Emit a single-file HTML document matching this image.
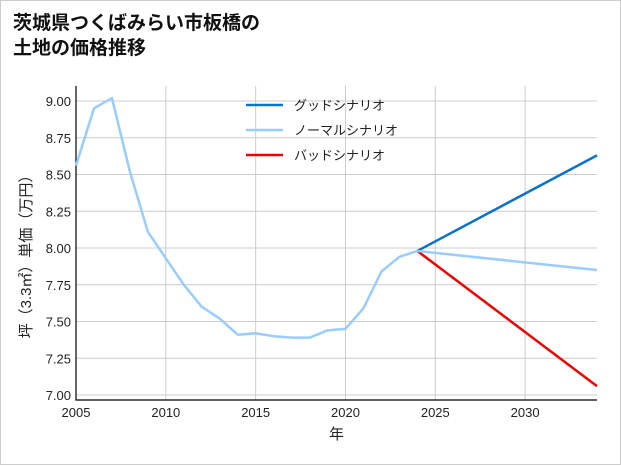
<!DOCTYPE html>
<html><head><meta charset="utf-8">
<style>
html,body{margin:0;padding:0;background:#fff;}
#wrap{position:relative;width:619px;height:463px;border:1px solid #ccc;background:#fff;font-family:"Liberation Sans","Noto Sans CJK JP",sans-serif;}
#title{position:absolute;left:12px;top:10px;font-size:19px;font-weight:bold;line-height:25px;color:#111;}
svg{position:absolute;left:0;top:0;}
</style></head><body>
<div id="wrap">
<div id="title">茨城県つくばみらい市板橋の<br>土地の価格推移</div>
<svg id="chart" width="621" height="465"></svg>
</div>
<script>
const years=[2005,2006,2007,2008,2009,2010,2011,2012,2013,2014,2015,2016,2017,2018,2019,2020,2021,2022,2023,2024];
const normalHist=[8.56,8.95,9.02,8.52,8.11,7.93,7.75,7.60,7.52,7.41,7.42,7.40,7.39,7.39,7.44,7.45,7.59,7.84,7.94,7.98];
const projYears=[2024,2034];
const goodVals=[7.98,8.63];
const normalVals=[7.98,7.85];
const badVals=[7.98,7.06];
const xTicks=[2005,2010,2015,2020,2025,2030];
const yTicks=[7.00,7.25,7.50,7.75,8.00,8.25,8.50,8.75,9.00];
const legendLabels=["グッドシナリオ","ノーマルシナリオ","バッドシナリオ"];
const legendColors=["#0a72c8","#99ccff","#ee0000"];

const L=75,R=596,T=85,B=399;
const x=v=>L+(v-2005)*(R-L)/(2034-2005);
const y=v=>100+(9-v)*(394-100)/2;
const NS="http://www.w3.org/2000/svg";
const svg=document.getElementById('chart');
function mk(t,a){const e=document.createElementNS(NS,t);for(const k in a)e.setAttribute(k,a[k]);svg.appendChild(e);return e;}

xTicks.forEach(v=>{
 const l=mk('line',{x1:x(v),x2:x(v),y1:T,y2:B,stroke:'#ccc','stroke-width':1});
 
 
 const t=mk('text',{x:x(v),y:B+17,'text-anchor':'middle','font-size':13,fill:'#222'});
 t.textContent=v;
 
 
});
yTicks.forEach(v=>{
 const l=mk('line',{x1:L,x2:R,y1:y(v),y2:y(v),stroke:'#ccc','stroke-width':1});
 
 
 const t=mk('text',{x:L-5,y:y(v)+5,'text-anchor':'end','font-size':13,fill:'#222'});
 t.textContent=v.toFixed(2);
 
 
});
const ax=mk('path',{d:`M${L},${T}V${B}H${R}`,fill:'none',stroke:'#000','stroke-width':1.2});



function line(xs,vs,c,name){
 const p=mk('polyline',{points:xs.map((a,i)=>x(a)+','+y(vs[i])).join(' '),fill:'none',stroke:c,'stroke-width':2.5,'stroke-linejoin':'round'});
 
 
}
line(projYears,goodVals,legendColors[0],'good-scenario-line');
line(projYears,badVals,legendColors[2],'bad-scenario-line');
line(years,normalHist,legendColors[1],'historical-price-line');
line(projYears,normalVals,legendColors[1],'normal-scenario-line');

legendLabels.forEach((s,i)=>{
 const yy=104+i*25;
 const l=mk('line',{x1:245,x2:282,y1:yy,y2:yy,stroke:legendColors[i],'stroke-width':2.5});
 
 
 const t=mk('text',{x:293,y:yy+5,'font-size':13,fill:'#222'});
 t.textContent=s;
 
 
});
const xt=mk('text',{x:(L+R)/2,y:438,'text-anchor':'middle','font-size':15,fill:'#222'});
xt.textContent='年';


const yt=mk('text',{x:0,y:0,'text-anchor':'middle','font-size':15,fill:'#222',transform:`translate(30,${(T+B)/2+10}) rotate(-90)`});
yt.textContent='坪（3.3㎡）単価（万円）';


</script>
</body></html>
